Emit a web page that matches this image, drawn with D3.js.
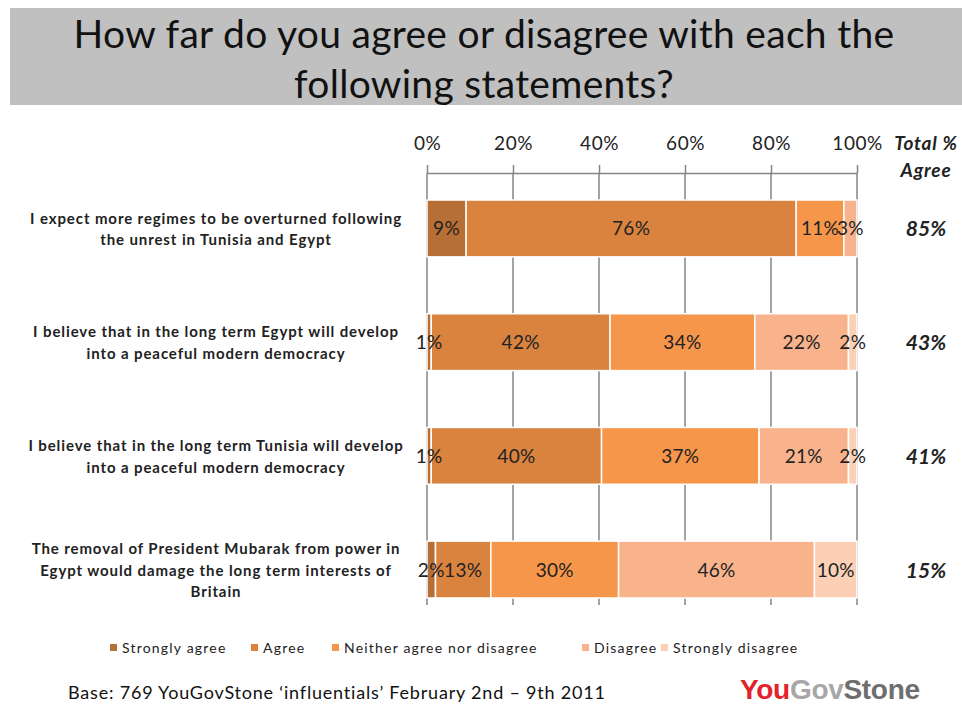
<!DOCTYPE html>
<html>
<head>
<meta charset="utf-8">
<script src="https://cdn.jsdelivr.net/npm/d3@7"></script>
<style>
  body { margin: 0; background: #fff; }
  svg { display: block; }
</style>
</head>
<body>
<div id="container"></div>
<script>
// chart values
var statements = [
  ["I expect more regimes to be overturned following", "the unrest in Tunisia and Egypt"],
  ["I believe that in the long term Egypt will develop", "into a peaceful modern democracy"],
  ["I believe that in the long term Tunisia will develop", "into a peaceful modern democracy"],
  ["The removal of President Mubarak from power in", "Egypt would damage the long term interests of", "Britain"]
]
var responses = ["Strongly agree", "Agree", "Neither agree nor disagree", "Disagree", "Strongly disagree"]
var stronglyAgree = [9, 1, 1, 2]
var agree = [76, 42, 40, 13]
var neither = [11, 34, 37, 30]
var disagree = [3, 22, 21, 46]
var stronglyDisagree = [0, 2, 2, 10]
var totalAgree = [85, 43, 41, 15]
var ticks = [0, 0.2, 0.4, 0.6, 0.8, 1]
var colours = ["#b86f35", "#da833f", "#f6964a", "#f8b38c", "#fbd0b5"]

function drawChart() {
  var width = 962
  var height = 706
  var svg = d3.select("#container")
    .append("svg")
    .attr("width", width)
    .attr("height", height)

  var font = "Lato, 'Open Sans', sans-serif"

  // title box
  svg.append("rect")
    .attr("x", 10).attr("y", 8)
    .attr("width", 952).attr("height", 97)
    .style("fill", "#c0c0c0")

  var title = ["How far do you agree or disagree with each the", "following statements?"]
  svg.append("g").selectAll("text")
    .data(title)
    .enter()
    .append("text")
    .attr("x", 484)
    .attr("y", (d, i) => 48 + i * 50)
    .attr("text-anchor", "middle")
    .style("font-family", font)
    .style("font-size", "39px")
    .style("letter-spacing", "0.3px")
    .style("fill", "#111")
    .text((d) => d)

  var rows = statements.map((s, i) => ({
    id: i,
    "Strongly agree": stronglyAgree[i],
    "Agree": agree[i],
    "Neither agree nor disagree": neither[i],
    "Disagree": disagree[i],
    "Strongly disagree": stronglyDisagree[i]
  }))

  var x = d3.scaleLinear().domain([0, 1]).range([427, 857])
  var y = d3.scaleBand()
    .domain(rows.map((d) => d.id))
    .range([171.6, 626.4])
    .paddingInner(0.5)
    .paddingOuter(0.25)
  var colour = d3.scaleOrdinal().domain(responses).range(colours)

  var stacked = d3.stack()
    .keys(responses)
    .offset(d3.stackOffsetExpand)(rows)

  // gridlines
  svg.append("g").selectAll("line")
    .data(ticks)
    .enter()
    .append("line")
    .attr("x1", (d) => x(d)).attr("x2", (d) => x(d))
    .attr("y1", 173).attr("y2", 605)
    .attr("stroke", "#858585")
    .style("stroke-width", 1.5)

  // top axis
  var axis = svg.append("g")
    .attr("transform", "translate(0,173)")
    .call(d3.axisTop(x)
      .tickValues(ticks)
      .tickFormat(d3.format(".0%"))
      .tickSize(8)
      .tickSizeOuter(0)
      .tickPadding(15))
  axis.select(".domain").attr("stroke", "#858585").style("stroke-width", 1.5)
  axis.selectAll(".tick line").attr("stroke", "#858585").style("stroke-width", 1.5)
  axis.selectAll(".tick text")
    .style("font-family", font)
    .style("font-size", "19px")
    .style("letter-spacing", "0.5px")
    .style("fill", "#222")

  // bars
  var layers = svg.append("g").selectAll("g")
    .data(stacked)
    .enter()
    .append("g")
    .style("fill", (d) => colour(d.key))

  layers.selectAll("rect")
    .data((d) => d)
    .enter()
    .append("rect")
    .attr("x", (d) => x(d[0]))
    .attr("y", (d) => y(d.data.id))
    .attr("width", (d) => x(d[1]) - x(d[0]))
    .attr("height", y.bandwidth())
    .attr("stroke", "#fff")
    .style("stroke-width", 1.5)

  // data labels
  var labels = svg.append("g")
  stacked.forEach(function(layer) {
    layer.forEach(function(d) {
      var v = d.data[layer.key]
      if (!v) return
      labels.append("text")
        .attr("x", (x(d[0]) + x(d[1])) / 2)
        .attr("y", y(d.data.id) + y.bandwidth() / 2 + 7)
        .attr("text-anchor", "middle")
        .style("font-family", font)
        .style("font-size", "19px")
        .style("letter-spacing", "0.3px")
        .style("fill", "#222")
        .text(v + "%")
    })
  })

  // category labels
  var cats = svg.append("g").selectAll("text")
    .data(statements)
    .enter()
    .append("text")
    .attr("text-anchor", "middle")
    .style("font-family", font)
    .style("font-weight", "bold")
    .style("font-size", "15px")
    .style("letter-spacing", "0.9px")
    .style("fill", "#222")
  cats.each(function(lines, i) {
    var cy = y(i) + y.bandwidth() / 2
    var top = cy - (lines.length - 1) * 21.5 / 2 + 6
    d3.select(this).selectAll("tspan")
      .data(lines)
      .enter()
      .append("tspan")
      .attr("x", 216)
      .attr("y", (d, j) => top + j * 21.5)
      .text((d) => d)
  })

  // total % agree column
  var totalHead = ["Total %", "Agree"]
  svg.append("g").selectAll("text")
    .data(totalHead)
    .enter()
    .append("text")
    .attr("x", 926)
    .attr("y", (d, i) => 150 + i * 27)
    .attr("text-anchor", "middle")
    .style("font-family", font)
    .style("font-weight", "bold")
    .style("font-style", "italic")
    .style("font-size", "19px")
    .style("letter-spacing", "0.8px")
    .style("fill", "#222")
    .text((d) => d)

  svg.append("g").selectAll("text")
    .data(totalAgree)
    .enter()
    .append("text")
    .attr("x", 926)
    .attr("y", (d, i) => y(i) + y.bandwidth() / 2 + 8)
    .attr("text-anchor", "middle")
    .style("font-family", font)
    .style("font-weight", "bold")
    .style("font-style", "italic")
    .style("font-size", "21px")
    .style("fill", "#222")
    .text((d) => d + "%")

  // legend
  var legendX = [110, 251, 332, 582, 661]
  var legend = svg.append("g").selectAll("g")
    .data(responses)
    .enter()
    .append("g")
    .attr("transform", (d, i) => "translate(" + legendX[i] + ",648)")
  legend.append("rect")
    .attr("x", 0).attr("y", -4)
    .attr("width", 7).attr("height", 7)
    .style("fill", (d) => colour(d))
  legend.append("text")
    .attr("x", 12).attr("y", 5)
    .style("font-family", font)
    .style("font-size", "14px")
    .style("letter-spacing", "1.2px")
    .style("fill", "#222")
    .text((d) => d)

  // footer
  svg.append("text")
    .attr("x", 68).attr("y", 699)
    .style("font-family", font)
    .style("font-size", "18px")
    .style("letter-spacing", "0.8px")
    .style("fill", "#111")
    .text("Base: 769 YouGovStone \u2018influentials\u2019 February 2nd \u2013 9th 2011")

  var logo = svg.append("text")
    .attr("x", 740).attr("y", 699)
    .style("font-family", "'Liberation Sans', Arial, sans-serif")
    .style("font-weight", "bold")
    .style("font-size", "28px")
    .style("letter-spacing", "-0.3px")
  logo.append("tspan").style("fill", "#e3232b").text("You")
  logo.append("tspan").style("fill", "#a7a7a7").text("Gov")
  logo.append("tspan").style("fill", "#6e6e6e").text("Stone")
}

drawChart()
</script>
</body>
</html>
